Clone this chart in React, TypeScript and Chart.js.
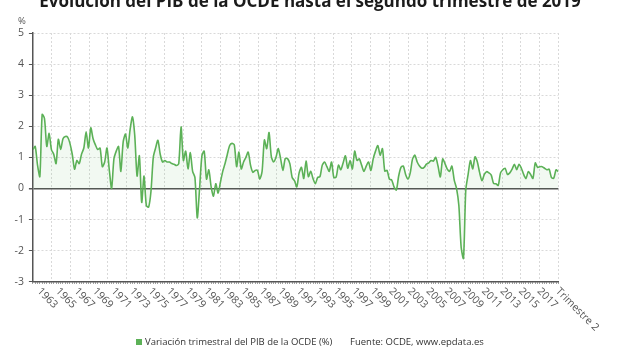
import { useEffect, useRef } from 'react';
import { Chart, registerables } from 'chart.js';

Chart.register(...registerables);

const TITLE = 'Evolución del PIB de la OCDE hasta el segundo trimestre de 2019';
const SERIES_LABEL = 'Variación trimestral del PIB de la OCDE (%)';
const SOURCE = 'Fuente: OCDE, www.epdata.es';
const UNIT = '%';

// Quarter-on-quarter change of OECD GDP (%), from 1962 T3 to 2019 T2
const gdpChange = [
  1.25, 1.35, 0.75, 0.38, 2.38, 2.25, 1.35, 1.77,
  1.25, 1.1, 0.8, 1.58, 1.25, 1.6, 1.67, 1.65,
  1.45, 1.1, 0.62, 0.9, 0.8, 1.1, 1.3, 1.82,
  1.3, 1.95, 1.6, 1.4, 1.25, 1.3, 0.7, 0.85,
  1.3, 0.6, 0.0, 0.95, 1.2, 1.35, 0.55, 1.5,
  1.75, 1.3, 1.9, 2.3, 1.7, 0.4, 1.05, -0.45,
  0.4, -0.55, -0.6, -0.1, 1.0, 1.3, 1.55, 1.1,
  0.85, 0.9, 0.85, 0.85, 0.8, 0.78, 0.74, 0.8,
  1.98, 0.9, 1.2, 0.63, 1.15, 0.55, 0.35, -0.95,
  0.0, 1.05, 1.2, 0.3, 0.6, 0.05, -0.25, 0.15,
  -0.15, 0.2, 0.55, 0.8, 1.1, 1.38, 1.45, 1.4,
  0.7, 1.17, 0.63, 0.85, 1.0, 1.17, 0.75, 0.52,
  0.58, 0.58, 0.3, 0.55, 1.56, 1.28, 1.8, 1.02,
  0.85, 1.0, 1.28, 0.96, 0.58, 0.96, 0.96, 0.8,
  0.35, 0.25, 0.05, 0.5, 0.68, 0.32, 0.88, 0.38,
  0.55, 0.32, 0.15, 0.35, 0.38, 0.75, 0.85, 0.7,
  0.55, 0.85, 0.35, 0.37, 0.75, 0.6, 0.82, 1.05,
  0.65, 0.9, 0.63, 1.2, 0.9, 0.95, 0.75, 0.55,
  0.72, 0.85, 0.58, 0.95, 1.2, 1.38, 1.07, 1.28,
  0.56, 0.58, 0.3, 0.27, 0.05, -0.05, 0.4, 0.68,
  0.72, 0.45, 0.3, 0.5, 0.95, 1.07, 0.85, 0.72,
  0.65, 0.68, 0.78, 0.82, 0.9, 0.88, 1.0, 0.72,
  0.37, 0.95, 0.8, 0.62, 0.55, 0.72, 0.27, 0.0,
  -0.55, -1.9, -2.25, -0.05, 0.45, 0.9, 0.63, 1.02,
  0.85, 0.5, 0.25, 0.45, 0.54, 0.5, 0.43, 0.16,
  0.15, 0.1, 0.5, 0.6, 0.65, 0.45, 0.5, 0.62,
  0.78, 0.6, 0.78, 0.65, 0.45, 0.32, 0.54, 0.45,
  0.32, 0.82, 0.68, 0.7, 0.7, 0.65, 0.6, 0.62,
  0.35, 0.33, 0.6, 0.54,
];

// Axis labels, one every 8 quarters starting at 1963 T2
const tickLabels = [
  '1963', '1965', '1967', '1969', '1971', '1973', '1975', '1977', '1979', '1981',
  '1983', '1985', '1987', '1989', '1991', '1993', '1995', '1997', '1999', '2001',
  '2003', '2005', '2007', '2009', '2011', '2013', '2015', '2017', 'Trimestre 2',
];
const firstTickIndex = 3;
const quartersPerTick = 8;

const Y_MIN = -3;
const Y_MAX = 5;
const GRID_COLUMNS = 28;

const LINE_COLOR = '#5cb157';
const FILL_COLOR = 'rgba(92, 177, 87, 0.08)';
const TEXT_COLOR = '#555555';
const FONT = '"Open Sans", sans-serif';

const overlay = {
  id: 'overlay',
  afterDraw(chart: any) {
    const { ctx, chartArea } = chart;
    const xs = chart.scales.x;
    ctx.save();

    // title
    ctx.fillStyle = '#1b1b1b';
    ctx.font = `bold 17px ${FONT}`;
    ctx.textAlign = 'center';
    ctx.textBaseline = 'alphabetic';
    ctx.fillText(TITLE, chart.width / 2, 7);

    // unit above the value axis
    ctx.fillStyle = TEXT_COLOR;
    ctx.font = `9.5px ${FONT}`;
    ctx.textBaseline = 'middle';
    ctx.fillText(UNIT, 22, 21);

    // slanted period labels
    ctx.font = `10.5px ${FONT}`;
    ctx.textAlign = 'left';
    tickLabels.forEach((label, k) => {
      const idx = Math.min(firstTickIndex + k * quartersPerTick, gdpChange.length - 1);
      const px = xs.getPixelForValue(idx);
      ctx.save();
      ctx.translate(px - 1, chartArea.bottom + 8);
      ctx.rotate(Math.PI / 4);
      ctx.fillText(label, 0, 0);
      ctx.restore();
    });

    // legend row
    const ly = 342;
    ctx.fillStyle = LINE_COLOR;
    ctx.fillRect(136, ly - 3, 6, 6);
    ctx.fillStyle = '#333333';
    ctx.font = `9.5px ${FONT}`;
    ctx.textAlign = 'left';
    ctx.fillText(SERIES_LABEL, 145, ly);
    ctx.fillText(SOURCE, 350, ly);

    ctx.restore();
  },
};

export default function App() {
  const canvasRef = useRef<HTMLCanvasElement | null>(null);

  useEffect(() => {
    const canvas = canvasRef.current;
    if (!canvas) return;
    const chart = new Chart(canvas, {
      type: 'line',
      data: {
        datasets: [
          {
            label: SERIES_LABEL,
            data: gdpChange.map((v, i) => ({ x: i, y: v })),
            borderColor: LINE_COLOR,
            backgroundColor: FILL_COLOR,
            borderWidth: 1.6,
            pointRadius: 0,
            tension: 0.25,
            fill: 'origin',
            xAxisID: 'x',
            yAxisID: 'y',
          },
        ],
      },
      options: {
        responsive: false,
        animation: false,
        devicePixelRatio: 1,
        layout: { padding: { top: 33, left: 0, right: 61.6, bottom: 0 } },
        plugins: {
          legend: { display: false },
          title: { display: false },
          tooltip: { enabled: false },
        },
        scales: {
          x: {
            type: 'linear',
            position: 'bottom',
            min: 0,
            max: gdpChange.length - 1,
            ticks: { display: false, stepSize: 1 },
            grid: {
              display: true,
              drawOnChartArea: false,
              drawTicks: true,
              tickLength: 2,
              tickColor: '#777777',
            },
            border: { display: true, color: '#555555', width: 1.5 },
            afterFit: (s: any) => {
              s.height = 68.3;
            },
          },
          xg: {
            type: 'linear',
            position: 'bottom',
            min: 0,
            max: GRID_COLUMNS,
            ticks: { display: false, stepSize: 1 },
            grid: {
              display: true,
              drawTicks: false,
              color: '#d9d9d9',
              lineWidth: 1,
            },
            border: { display: false, dash: [2, 2] },
            afterFit: (s: any) => {
              s.height = 0;
            },
          },
          y: {
            type: 'linear',
            min: Y_MIN,
            max: Y_MAX,
            ticks: {
              stepSize: 1,
              color: TEXT_COLOR,
              font: { family: FONT, size: 10.5 },
              padding: 5,
            },
            grid: {
              color: (c: any) => (c.tick && c.tick.value === 0 ? '#555555' : '#d9d9d9'),
              lineWidth: (c: any) => (c.tick && c.tick.value === 0 ? 1.5 : 1),
              tickLength: 4,
              tickColor: '#555555',
            },
            border: {
              display: true,
              color: '#555555',
              width: 1.5,
              dash: (c: any) => (c.tick && c.tick.value === 0 ? [] : [2, 2]),
            },
            afterFit: (s: any) => {
              s.width = 32.9;
            },
          },
        },
      },
      plugins: [overlay],
    });
    return () => chart.destroy();
  }, []);

  return (
    <div style={{ position: 'absolute', left: 0, top: 0, width: 620, height: 350, background: '#ffffff' }}>
      <canvas ref={canvasRef} width={620} height={350} />
    </div>
  );
}
